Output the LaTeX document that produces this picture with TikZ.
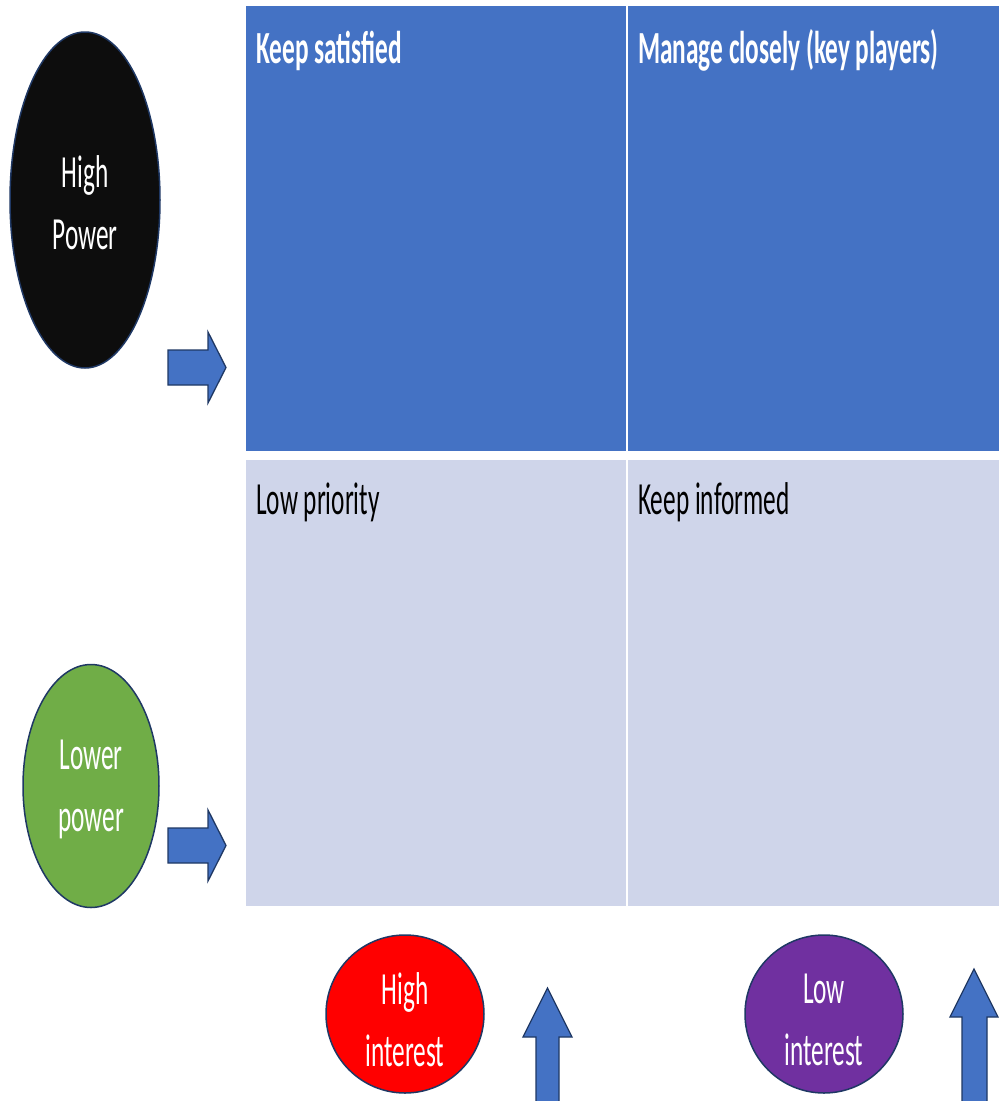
\documentclass[tikz,border=0pt]{standalone}
\usepackage{fontspec}
\usetikzlibrary{shapes.geometric}
\newfontfamily\calibf[FakeStretch=0.55]{Carlito}
\definecolor{cellblue}{HTML}{4472C4}
\definecolor{celllight}{HTML}{CFD5EA}
\definecolor{navy}{HTML}{1F3864}
\definecolor{pgreen}{HTML}{70AD47}
\definecolor{ppurple}{HTML}{7030A0}
\definecolor{pblack}{HTML}{0D0D0D}
\tikzset{
  cell/.style={rectangle, inner sep=0, outer sep=0, draw=none, anchor=north west},
  celltext/.style={anchor=base west, inner sep=0, font={\fontsize{46}{56}\selectfont\calibf}},
  blob/.style={ellipse, draw=navy, line width=1.5pt, inner sep=0},
  blobtext/.style={text=white, align=center, inner sep=0, yshift=-3pt,
               font={\fontsize{46}{62}\selectfont\calibf}},
  blockarrow/.style={fill=cellblue, draw=navy, line width=1.3pt, line join=miter}
}
\begin{document}
\begin{tikzpicture}[x=1pt,y=-1pt]
\useasboundingbox[fill=white] (0,0) rectangle (999,1101);

% quadrant cells
\node[cell, fill=cellblue, minimum width=380, minimum height=445] (tl) at (246,6) {};
\node[cell, fill=cellblue, minimum width=371, minimum height=445] (tr) at (628,6) {};
\node[cell, fill=celllight, minimum width=380, minimum height=446] (bl) at (246,460) {};
\node[cell, fill=celllight, minimum width=371, minimum height=446] (br) at (628,460) {};

% cell labels
\node[celltext, text=white, font={\fontsize{46}{56}\selectfont\calibf\bfseries}] (tks) at (256,63) {Keep satisfied};
\node[celltext, text=white, font={\fontsize{46}{56}\selectfont\calibf\bfseries}] (tmc) at (638,63) {Manage closely (key players)};
\node[celltext, text=black] (tlp) at (256,514) {Low priority};
\node[celltext, text=black] (tki) at (638,514) {Keep informed};

% ellipses and circles
\node[blob, fill=pblack, minimum width=150, minimum height=336,
      label={[blobtext]center:High\\Power}] (hp) at (85,200) {};
\node[blob, fill=pgreen, minimum width=136, minimum height=243,
      label={[blobtext]center:Lower\\power}] (lp) at (91,786) {};
\node[blob, fill=red, minimum width=158, minimum height=158,
      label={[blobtext, yshift=-3pt]center:High\\interest}] (hi) at (405,1014) {};
\node[blob, fill=ppurple, minimum width=158, minimum height=158,
      label={[blobtext, yshift=-3pt]center:Low\\interest}] (li) at (824,1014) {};

% block arrows
\draw[blockarrow] (168,350) -- (208,350) -- (208,332) -- (226,367.5) -- (208,403) -- (208,385) -- (168,385) -- cycle;
\draw[blockarrow] (168,828) -- (208,828) -- (208,810) -- (226,845.5) -- (208,881) -- (208,863) -- (168,863) -- cycle;
\draw[blockarrow] (536,1110) -- (536,1037) -- (523,1037) -- (547.5,988) -- (572,1037) -- (559,1037) -- (559,1110);
\draw[blockarrow] (962,1110) -- (962,1017) -- (950,1017) -- (974,969) -- (998,1017) -- (987,1017) -- (987,1110);
\end{tikzpicture}
\end{document}
